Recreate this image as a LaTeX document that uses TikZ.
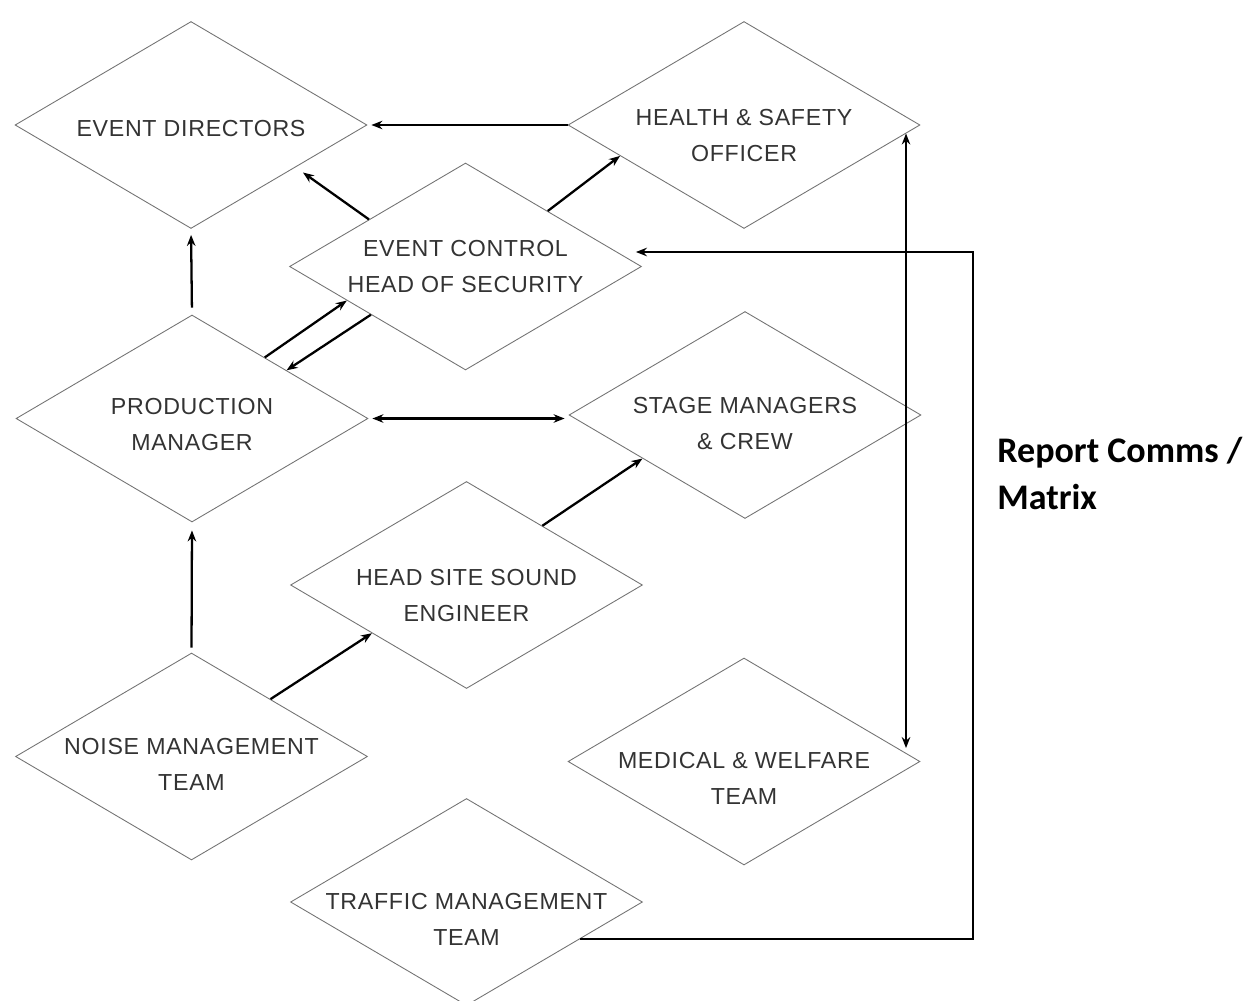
\documentclass[tikz,border=0pt]{standalone}
\usepackage{fontspec}
\setmainfont{Liberation Sans}
\newfontfamily\notefont{Carlito}
\newcommand\lowerby[1]{\rule{0pt}{#1}}
\usetikzlibrary{shapes.geometric,arrows.meta}

\begin{document}
\begin{tikzpicture}[x=0.02cm, y=-0.02cm,
    role/.style = {diamond, draw=black!55, line width=0.5pt, shape aspect=1.7,
      minimum width=7.04cm, minimum height=4.14cm, inner sep=-0.5cm, align=center,
      text=black!80, font=\fontsize{13.2}{20.5}\selectfont\addfontfeature{LetterSpace=3}},
    link/.style = {line width=1.3pt, -{Stealth[length=0.22cm,width=0.17cm]}},
    both/.style = {link, {Stealth[length=0.22cm,width=0.17cm]}-{Stealth[length=0.22cm,width=0.17cm]}}]
    \useasboundingbox (0,0) rectangle (1260,1000);

    \node[role] (ed) at (191,125) {\lowerby{13pt}EVENT DIRECTORS};
    \node[role] (hs) at (744,125) {\lowerby{21pt}HEALTH \& SAFETY\\OFFICER};
    \node[role] (ec) at (465.5,266.5) {EVENT CONTROL\\HEAD OF SECURITY};
    \node[role] (pm) at (192,418.5) {\lowerby{16.5pt}PRODUCTION\\MANAGER};
    \node[role] (sm) at (745,415) {\lowerby{18.5pt}STAGE MANAGERS\\\& CREW};
    \node[role] (hsse) at (466.5,585) {\lowerby{21pt}HEAD SITE SOUND\\ENGINEER};
    \node[role] (nmt) at (191.5,756.5) {\lowerby{18.5pt}NOISE MANAGEMENT\\TEAM};
    \node[role] (mwt) at (744,761.5) {\lowerby{29pt}MEDICAL \& WELFARE\\TEAM};
    \node[role] (tmt) at (466.5,902) {\lowerby{29pt}TRAFFIC MANAGEMENT\\TEAM};
    \node[anchor=north west, inner sep=0pt, align=left,
        font=\notefont\bfseries\fontsize{20.5}{26.7}\selectfont] (note) at (997,437) {Report Comms /\\Matrix};

    \draw[link, shorten >=0.08cm] (hs.west) -- (ed.east);
    \draw[link, shorten >=0.18cm] (ec.154) -- (ed.-22);
    \draw[link] (ec.34) -- (hs.194);
    \draw[link, shorten <=0.14cm, shorten >=0.12cm] (pm.north) -- (ed.south);
    \draw[link] (pm.40) -- (ec.196);
    \draw[link] (ec.207) -- (pm.27);
    \draw[both, shorten <=0.08cm, shorten >=0.08cm] (pm.east) -- (pm.east -| sm.west);
    \draw[link] (hsse.38) -- (sm.203);
    \draw[link, shorten <=0.1cm, shorten >=0.16cm] (nmt.north) -- (pm.south);
    \draw[link] (nmt.36) -- (hsse.207);
    \draw[both] (hs.-3) -- (hs.-3 |- mwt.5);
    \coordinate (bus) at (973,252);
    \draw[link, shorten >=-0.12cm] (tmt.-18) -| (bus) -- (ec.east |- bus);
\end{tikzpicture}
\end{document}
